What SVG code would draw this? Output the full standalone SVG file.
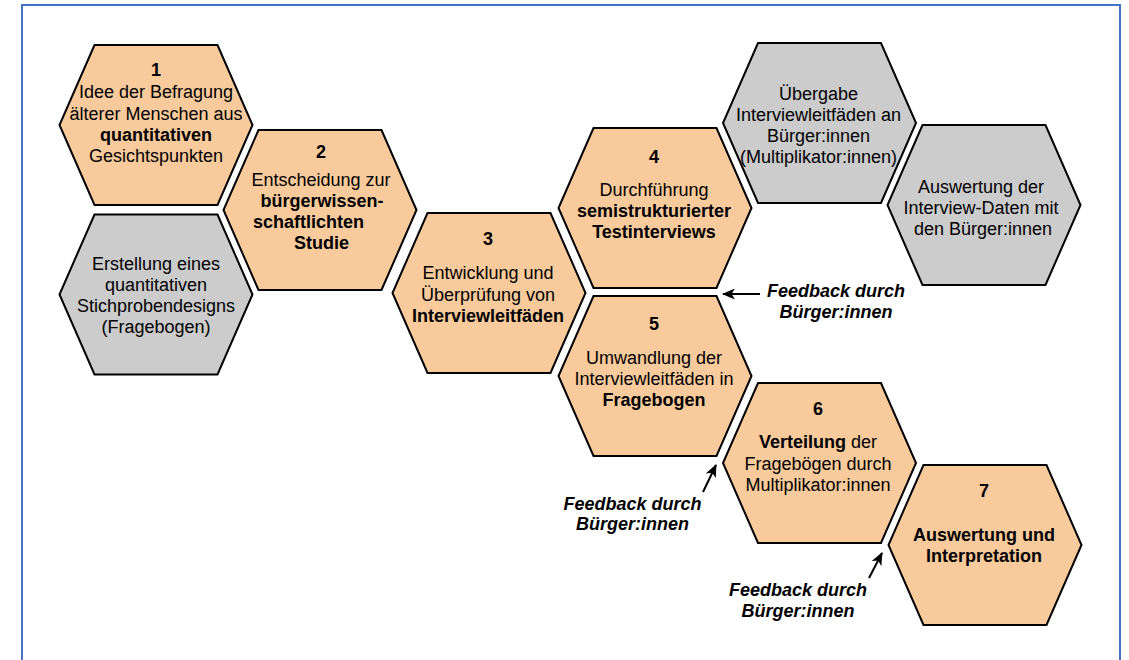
<svg xmlns="http://www.w3.org/2000/svg" width="1129" height="660" viewBox="0 0 1129 660">
  <style>
    .hex { stroke: #000; stroke-width: 2; stroke-linejoin: miter; }
    .o { fill: #F9CB9C; }
    .g { fill: #CCCCCC; }
    text { font-family: "Liberation Sans", Arial, sans-serif; font-size: 18px; fill: #000; text-anchor: middle; }
    .b { font-weight: bold; }
    .fb { font-weight: bold; font-style: italic; }
    .conn { stroke: #000; stroke-width: 2; fill: none; }
  </style>
  <defs>
    <polygon id="hexshape" points="-61.5,-80 61.5,-80 96.5,0 61.5,80 -61.5,80 -96.5,0"/>
    <marker id="ah" viewBox="0 0 13 11" refX="12" refY="5.5" markerWidth="13" markerHeight="11" orient="auto" markerUnits="userSpaceOnUse">
      <path d="M0,0 L13,5.5 L0,11 L3.5,5.5 z" fill="#000"/>
    </marker>
  </defs>
  <rect x="0" y="0" width="1129" height="660" fill="#fff"/>
  <rect x="22" y="5" width="1098" height="700" fill="none" stroke="#4472C4" stroke-width="2"/>

  <g id="node1">
    <use href="#hexshape" class="hex o" x="156" y="125"/>
    <text x="156" y="76" class="b">1</text>
    <text x="156" y="98">Idee der Befragung</text>
    <text x="156" y="119.5">älterer Menschen aus</text>
    <text x="156" y="141" class="b">quantitativen</text>
    <text x="156" y="162">Gesichtspunkten</text>
  </g>

  <g id="node-quant">
    <use href="#hexshape" class="hex g" x="156" y="294.5"/>
    <text x="156" y="269.5">Erstellung eines</text>
    <text x="156" y="290.8">quantitativen</text>
    <text x="156" y="312">Stichprobendesigns</text>
    <text x="156" y="333.3">(Fragebogen)</text>
  </g>

  <g id="node2">
    <use href="#hexshape" class="hex o" x="320" y="210"/>
    <text x="321" y="158" class="b">2</text>
    <text x="321" y="186">Entscheidung zur</text>
    <text x="322" y="207" class="b">bürgerwissen-</text>
    <text x="308.5" y="228" class="b">schaftlichten</text>
    <text x="321.5" y="249" class="b">Studie</text>
  </g>

  <g id="node3">
    <use href="#hexshape" class="hex o" x="489" y="293"/>
    <text x="488" y="245" class="b">3</text>
    <text x="488" y="279">Entwicklung und</text>
    <text x="488" y="300.5">Überprüfung von</text>
    <text x="488" y="322" class="b">Interviewleitfäden</text>
  </g>

  <g id="node4">
    <use href="#hexshape" class="hex o" x="655" y="208"/>
    <text x="654" y="163" class="b">4</text>
    <text x="654" y="195.5">Durchführung</text>
    <text x="654" y="217" class="b">semistrukturierter</text>
    <text x="654" y="238" class="b">Testinterviews</text>
  </g>

  <g id="node5">
    <use href="#hexshape" class="hex o" x="655" y="376"/>
    <text x="654" y="330" class="b">5</text>
    <text x="654" y="364">Umwandlung der</text>
    <text x="654" y="385">Interviewleitfäden in</text>
    <text x="654" y="406" class="b">Fragebogen</text>
  </g>

  <g id="node-uebergabe">
    <use href="#hexshape" class="hex g" x="819.5" y="123"/>
    <text x="818.5" y="100">Übergabe</text>
    <text x="818.5" y="121">Interviewleitfäden an</text>
    <text x="818.5" y="142">Bürger:innen</text>
    <text x="818.5" y="163">(Multiplikator:innen)</text>
  </g>

  <g id="node-auswertung-daten">
    <use href="#hexshape" class="hex g" x="984" y="205"/>
    <text x="981" y="193">Auswertung der</text>
    <text x="981" y="214">Interview-Daten mit</text>
    <text x="983" y="235">den Bürger:innen</text>
  </g>

  <g id="node6">
    <use href="#hexshape" class="hex o" x="819.5" y="463"/>
    <text x="818" y="415" class="b">6</text>
    <text x="818" y="448"><tspan class="b">Verteilung</tspan> der</text>
    <text x="818" y="469.5">Fragebögen durch</text>
    <text x="818" y="490.5">Multiplikator:innen</text>
  </g>

  <g id="node7">
    <use href="#hexshape" class="hex o" x="985" y="545"/>
    <text x="984" y="497" class="b">7</text>
    <text x="984" y="541" class="b">Auswertung und</text>
    <text x="984" y="562" class="b">Interpretation</text>
  </g>

  <g id="connectors">
    <line class="conn" x1="760" y1="294" x2="723" y2="294" marker-end="url(#ah)"/>
    <line class="conn" x1="703" y1="492" x2="716" y2="465" marker-end="url(#ah)"/>
    <line class="conn" x1="869" y1="578" x2="882" y2="553" marker-end="url(#ah)"/>
    <text x="836" y="296.5" class="fb">Feedback durch</text>
    <text x="836" y="317.5" class="fb">Bürger:innen</text>
    <text x="632.5" y="509.5" class="fb">Feedback durch</text>
    <text x="632.5" y="530" class="fb">Bürger:innen</text>
    <text x="798" y="596" class="fb">Feedback durch</text>
    <text x="798" y="617" class="fb">Bürger:innen</text>
  </g>
</svg>
